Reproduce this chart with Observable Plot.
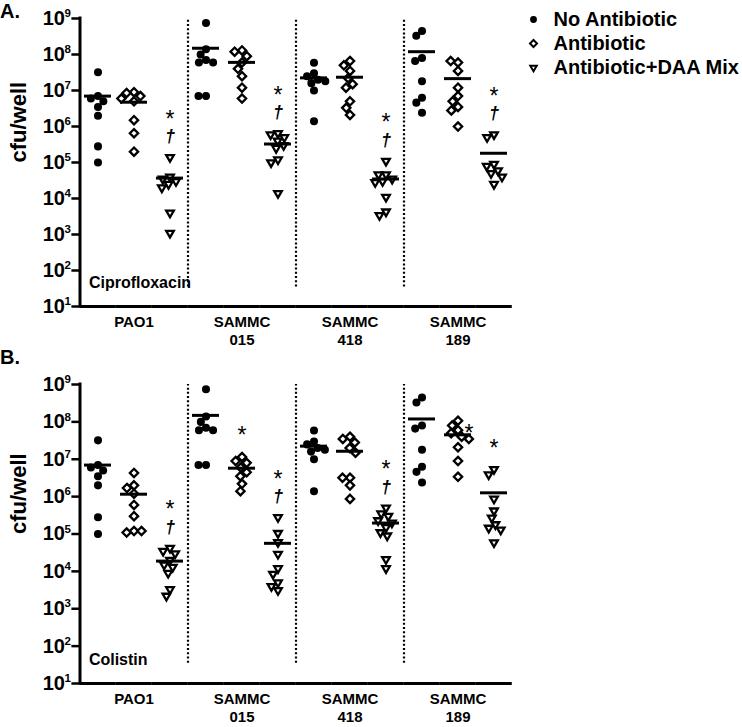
<!DOCTYPE html>
<html><head><meta charset="utf-8">
<script src="https://cdn.jsdelivr.net/npm/d3@7"></script>
<script src="https://cdn.jsdelivr.net/npm/@observablehq/plot@0.6"></script>
<style>
body{margin:0;background:#fff;}
#wrap{position:relative;width:742px;height:727px;font-family:"Liberation Sans",Arial,sans-serif;color:#000;background:#fff;overflow:hidden;}
.abs{position:absolute;}
.tag{position:absolute;left:0;font-weight:bold;font-size:20px;line-height:20px;}
</style></head><body>
<div id="wrap"></div>
<script>
// ---------- data ----------
const strains = ["PAO1", "SAMMC 015", "SAMMC 418", "SAMMC 189"];
const strainLabels = ["PAO1", "SAMMC\n015", "SAMMC\n418", "SAMMC\n189"];
const treatments = ["No Antibiotic", "Antibiotic", "Antibiotic+DAA Mix"];
const yTicks = [1e1, 1e2, 1e3, 1e4, 1e5, 1e6, 1e7, 1e8, 1e9];
const panelTitles = ["Ciprofloxacin", "Colistin"];

// cfu/well, one list per strain (order of `strains`)
const noAntibiotic = [
  [3.2e7, 7e6, 6e6, 5e6, 3.5e6, 2e6, 2.8e5, 1e5],
  [7.5e8, 1.4e8, 1e8, 7e7, 6e7, 6e7, 7e6, 7e6],
  [5.9e7, 3e7, 2.5e7, 2e7, 1.8e7, 1.6e7, 1e7, 1.4e6],
  [4.5e8, 3.3e8, 8e7, 6.6e7, 1.8e7, 6.3e6, 4.6e6, 2.4e6]
];
const cipro = [
  [9e6, 8.5e6, 7e6, 6e6, 5e6, 1.5e6, 6.5e5, 2e5],
  [1.3e8, 1.2e8, 9e7, 6e7, 4e7, 2.5e7, 1.2e7, 6e6],
  [6.6e7, 5e7, 3.5e7, 2.2e7, 1.5e7, 1.2e7, 5e6, 3.3e6, 2.1e6],
  [6e7, 6.6e7, 3.5e7, 1.2e7, 7e6, 5e6, 3.5e6, 2.8e6, 1e6]
];
const ciproDAA = [
  [1.4e5, 4e4, 3.5e4, 3e4, 2.5e4, 2e4, 4e3, 1.1e3],
  [6.5e5, 6e5, 5e5, 4e5, 3e5, 2.5e5, 1.2e5, 1e5, 1.4e4],
  [1.1e5, 4.6e4, 4.6e4, 3.5e4, 3e4, 2.8e4, 1.1e4, 4.3e3, 3.4e3],
  [6e5, 5e5, 9e4, 8e4, 6e4, 5e4, 4e4, 2.5e4]
];
const colistin = [
  [4.3e6, 2e6, 1.7e6, 1.2e6, 6e5, 3e5, 1.2e5, 1.1e5, 1.2e5],
  [1.15e7, 9e6, 8e6, 6e6, 4.5e6, 3.5e6, 2.2e6, 1.4e6],
  [4e7, 3.5e7, 2.8e7, 2e7, 1.5e7, 3.2e6, 3.2e6, 2e6, 8.7e5],
  [1.07e8, 8e7, 6e7, 5e7, 4e7, 3.5e7, 2.1e7, 9e6, 3.4e6]
];
const colistinDAA = [
  [4.2e4, 3.5e4, 3e4, 2e4, 1.5e4, 1.3e4, 9e3, 3.3e3, 2.2e3],
  [2.8e5, 1.05e5, 6e4, 2.9e4, 1.2e4, 8.5e3, 5e3, 4e3, 3.1e3],
  [5e5, 3.5e5, 3e5, 2.3e5, 2e5, 1.5e5, 1.1e5, 9e4, 2.1e4, 1.2e4],
  [5.4e6, 3.9e6, 8.7e5, 4.2e5, 2.7e5, 1.8e5, 1.45e5, 1.3e5, 5.9e4]
];
// significance marks: [strain, treatment index, symbol]
const ciproMarks = [
  ["PAO1", 2, "*"], ["PAO1", 2, "†"],
  ["SAMMC 015", 2, "*"], ["SAMMC 015", 2, "†"],
  ["SAMMC 418", 2, "*"], ["SAMMC 418", 2, "†"],
  ["SAMMC 189", 2, "*"], ["SAMMC 189", 2, "†"]
];
const colistinMarks = [
  ["PAO1", 2, "*"], ["PAO1", 2, "†"],
  ["SAMMC 015", 1, "*"],
  ["SAMMC 015", 2, "*"], ["SAMMC 015", 2, "†"],
  ["SAMMC 418", 2, "*"], ["SAMMC 418", 2, "†"],
  ["SAMMC 189", 1, "*s"],
  ["SAMMC 189", 2, "*"]
];

// ---------- styling ----------
const FONT = '"Liberation Sans", Arial, Helvetica, sans-serif';
const fills = ["black", "white", "white"];
const circleSym = {draw(c, s) { const r = Math.sqrt(s / Math.PI) * 0.64; c.moveTo(r, 0); c.arc(0, 0, r, 0, 2 * Math.PI); }};
const diamondSym = {draw(c, s) { const r = Math.sqrt(s / Math.PI) * 0.92; c.moveTo(0, -r); c.lineTo(r, 0); c.lineTo(0, r); c.lineTo(-r, 0); c.closePath(); }};
const triDownSym = {draw(c, s) { const w = Math.sqrt(s / Math.PI) * 0.85, h = w * Math.sqrt(3); c.moveTo(-w, -h / 3); c.lineTo(w, -h / 3); c.lineTo(0, 2 * h / 3); c.closePath(); }};
const symbolTypes = [circleSym, diamondSym, triDownSym];
const slots = strains.flatMap(s => [0, 1, 2].map(t => s + "|" + t));
const EDGE = -1 / 6; // gap midpoint left of a column band, in band units
const SEP_BOTTOM = 35;

function buildPoints(abx, daa) {
  const groups = [noAntibiotic, abx, daa];
  const pts = [];
  groups.forEach((g, t) => g.forEach((vals, s) => vals.forEach(v =>
    pts.push({strain: strains[s], treatment: treatments[t], t, slot: strains[s] + "|" + t, value: v}))));
  return pts;
}

function annotRows(points, marks) {
  return marks.map(([strain, t, sym]) => {
    const slot = strain + "|" + t;
    const y = d3.max(points.filter(p => p.slot === slot), p => p.value);
    const both = marks.some(m => m[0] === strain && m[1] === t && m[2] === "†");
    return {slot, y, text: sym[0], both, side: sym === "*s"};
  });
}

function panel(abx, daa, marks, title, height, marginTop, marginBottom) {
  const points = buildPoints(abx, daa);
  const rows = annotRows(points, marks);
  const txt = {fontFamily: FONT};
  return Plot.plot({
    width: 742, height, marginLeft: 78, marginRight: 229, marginTop, marginBottom,
    style: {fontFamily: FONT, background: "transparent", color: "black", overflow: "visible"},
    fx: {domain: slots, paddingInner: 0.255, paddingOuter: 0.1275, axis: null, label: null},
    x: {domain: [0, 1], axis: null},
    y: {type: "log", domain: [10, 1e9]},
    symbol: {domain: treatments, range: symbolTypes},
    color: {type: "identity"},
    marks: [
      Plot.ruleY([10], {x1: EDGE, x2: 1 - EDGE + 0.01, strokeWidth: 3}),
      Plot.ruleX([{slot: slots[0]}], {fx: "slot", x: EDGE, y1: 10, y2: 1e9, strokeWidth: 3, strokeLinecap: "square"}),
      Plot.ruleX(strains.slice(1).map(s => ({slot: s + "|0"})), {fx: "slot", x: EDGE, y1: SEP_BOTTOM, y2: 1e9, strokeWidth: 2.2, strokeDasharray: "2,2.2"}),
      Plot.axisY({ticks: yTicks, tickFormat: () => "10", tickSize: 8, tickPadding: 7, dx: -4.6, fontSize: 20, fontWeight: "bold", strokeWidth: 2.5, label: null, ...txt}),
      Plot.axisY({ticks: yTicks, tickFormat: d => String(Math.round(Math.log10(d))), tickSize: 0, tickPadding: 9, dx: -4.6, dy: -5, fontSize: 11.5, fontWeight: "bold", label: null, ...txt}),
      Plot.text([{slot: slots[0]}], {fx: "slot", frameAnchor: "left", text: () => "cfu/well", rotate: -90, dx: -66, fontSize: 22, fontWeight: "bold", ...txt}),
      Plot.text([{slot: slots[0], label: title}], {fx: "slot", frameAnchor: "bottom-left", textAnchor: "start", text: "label", dx: 4.4, dy: -19, fontSize: 16, fontWeight: "bold", ...txt}),
      Plot.text(strains.map((s, i) => ({slot: s + "|1", label: strainLabels[i]})), {fx: "slot", frameAnchor: "bottom", lineAnchor: "top", text: "label", dy: 8, fontSize: 15, fontWeight: "bold", lineHeight: 1.17, ...txt}),
      Plot.dot(points, Plot.dodgeX({anchor: "middle", padding: -1.5}, {fx: "slot", y: "value", r: 4.5, symbol: "treatment", fill: d => fills[d.t], stroke: "black", strokeWidth: 2.3})),
      Plot.tickY(points, Plot.groupZ({y: "mean"}, {fx: "slot", y: "value", strokeWidth: 3})),
      Plot.text(rows.filter(r => r.text === "*" && r.both), {fx: "slot", y: "y", text: "text", dy: -38, fontSize: 23, ...txt}),
      Plot.text(rows.filter(r => r.text === "†"), {fx: "slot", y: "y", text: "text", dy: -21, fontSize: 18, fontStyle: "italic", fontWeight: "bold", ...txt}),
      Plot.text(rows.filter(r => r.text === "*" && !r.both && !r.side), {fx: "slot", y: "y", text: "text", dy: -21, fontSize: 23, ...txt}),
      Plot.text(rows.filter(r => r.side), {fx: "slot", y: "y", text: "text", dx: 11, dy: 13, fontSize: 23, ...txt})
    ]
  });
}

const legend = Plot.plot({
  width: 222, height: 80, margin: 0,
  style: {fontFamily: FONT, background: "transparent", color: "black", overflow: "visible"},
  x: {domain: [0, 1], range: [13, 213], axis: null},
  y: {type: "point", domain: treatments, range: [18, 67], padding: 0, axis: null},
  symbol: {domain: treatments, range: symbolTypes},
  color: {type: "identity"},
  marks: [
    Plot.dot(treatments, {x: 0, y: d => d, symbol: d => d, fill: (d, i) => fills[i], stroke: "black", strokeWidth: 2, r: 3.8}),
    Plot.text(treatments, {x: 0, y: d => d, text: d => d, dx: 20, textAnchor: "start", fontSize: 20, fontWeight: "bold", fontFamily: FONT})
  ]
});

const wrap = document.getElementById("wrap");
const pA = panel(cipro, ciproDAA, ciproMarks, panelTitles[0], 345, 18, 39);
pA.classList.add("abs"); pA.style.left = "0px"; pA.style.top = "0px";
const pB = panel(colistin, colistinDAA, colistinMarks, panelTitles[1], 382, 39, 44);
pB.classList.add("abs"); pB.style.left = "0px"; pB.style.top = "345px";
legend.classList.add("abs"); legend.style.left = "520px"; legend.style.top = "0px";
wrap.append(pB, pA, legend);
const tA = document.createElement("div"); tA.className = "tag"; tA.style.top = "1px"; tA.textContent = "A.";
const tB = document.createElement("div"); tB.className = "tag"; tB.style.top = "347px"; tB.textContent = "B.";
wrap.append(tA, tB);
</script>
</body></html>
